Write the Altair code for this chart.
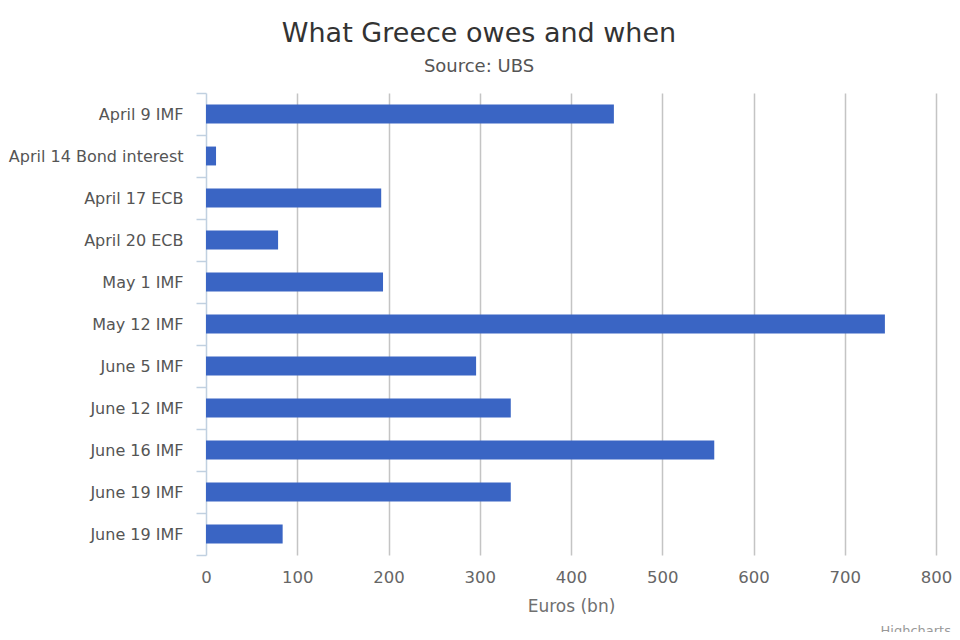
import pandas as pd
import altair as alt

### What Greece owes and when (Source: UBS), bars

payments = ["April 9 IMF", "April 14 Bond interest", "April 17 ECB", "April 20 ECB",
            "May 1 IMF", "May 12 IMF", "June 5 IMF", "June 12 IMF", "June 16 IMF",
            "June 19 IMF", "June 19 IMF"]
euros_bn = [447, 11, 192, 79, 194, 744, 296, 334, 557, 334, 84]
x_ticks = [0, 100, 200, 300, 400, 500, 600, 700, 800]
credit = ["Highcharts"]

### two payments share the label "June 19 IMF", so the bars are placed by row number

owed = pd.DataFrame({"row": list(range(len(payments))), "payment": payments, "euros": euros_bn})
label_expr = "[" + ", ".join("'" + p + "'" for p in payments) + "][datum.value]"

bars = (alt.Chart(owed)
    .mark_bar(color="#3A65C4", height={"band": 0.45})
    .encode(
        x=alt.X("euros:Q",
                scale=alt.Scale(domain=[0, 800], nice=False),
                axis=alt.Axis(values=x_ticks, title="Euros (bn)", domain=False, ticks=False,
                              grid=True, labelFlush=False,
                              gridColor=alt.ExprRef("datum.value == 0 ? 'transparent' : '#C4C4C4'"),
                              gridWidth=1.5,
                              labelFontSize=16.5, labelColor="#666666", labelPadding=14,
                              titleFontSize=17, titleColor="#707070", titleFontWeight="normal",
                              titlePadding=13)),
        y=alt.Y("row:O",
                scale=alt.Scale(paddingInner=0, paddingOuter=0),
                axis=alt.Axis(title=None, labelExpr=label_expr, tickBand="extent",
                              domainColor="#C0D0E0", domainWidth=1.5,
                              tickColor="#C0D0E0", tickWidth=1.5, tickSize=10,
                              labelFontSize=16, labelColor="#555555", labelPadding=13,
                              labelLimit=0, grid=False)),
        tooltip=["payment", "euros"]
    ))

credit_text = (alt.Chart(pd.DataFrame({"text": credit}))
    .mark_text(align="right", baseline="top", fontSize=13, color="#999999", font="DejaVu Sans")
    .encode(x=alt.value(745), y=alt.value(532), text="text:N"))

chart = (alt.layer(bars, credit_text)
    .properties(
        width=730,
        height=462,
        autosize=alt.AutoSizeParams(type="none"),
        padding={"left": 198, "top": 85, "right": 16, "bottom": 77},
        title=alt.TitleParams("What Greece owes and when", subtitle="Source: UBS",
                              anchor="middle", dx=-92, offset=8,
                              fontSize=27, fontWeight="normal", color="#333333",
                              subtitleFontSize=18, subtitleColor="#555555",
                              subtitlePadding=10))
    .configure(font="DejaVu Sans")
    .configure_view(stroke=None))

chart.save("out.html", embed_options={"renderer": "svg", "actions": False})
